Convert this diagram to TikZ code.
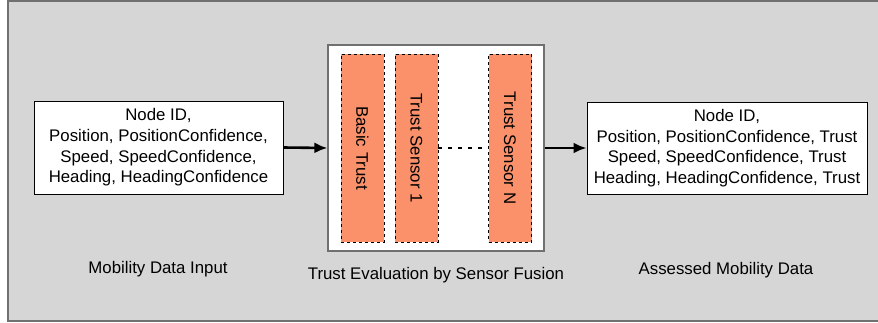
\documentclass[tikz,border=0pt]{standalone}
\usepackage{fontspec}
\setmainfont{Liberation Sans}
\usetikzlibrary{arrows.meta}
\definecolor{panelgray}{RGB}{214,214,214}
\definecolor{edgegray}{RGB}{112,112,112}
\definecolor{trustorange}{RGB}{250,145,106}
\tikzset{
  databox/.style={rectangle, draw, fill=white, align=center, inner sep=0pt, line width=0.9pt, font=\fontsize{16.8}{20.6}\selectfont},
  trustbar/.style={rectangle, draw, dashed, fill=trustorange, inner sep=0pt, line width=0.9pt, minimum width=43pt, minimum height=188pt},
  bartext/.style={rotate=-90, font=\fontsize{16.8}{20}\selectfont},
  caption/.style={font=\fontsize{16.8}{20}\selectfont},
  flow/.style={-{Latex[length=13pt,width=11pt]}, line width=2.6pt}
}
\begin{document}
\begin{tikzpicture}[x=1pt, y=-1pt]
  \useasboundingbox (0,0) rectangle (878,322);
  % Background
  \draw[edgegray, fill=panelgray, line width=2pt] (8,1) rectangle (890,321);
  % Nodes
  \node (input) [databox, minimum width=249pt, minimum height=93pt] at (158.5, 147.5) {Node ID,\\Position, PositionConfidence,\\Speed, SpeedConfidence,\\Heading, HeadingConfidence};
  \node (fusion) [rectangle, draw=edgegray, fill=white, line width=1.2pt, minimum width=216pt, minimum height=206pt, inner sep=0pt] at (436, 148) {};
  \node (basic) [trustbar] at (362.5, 148) {};
  \node (sensor-1) [trustbar] at (416.5, 148) {};
  \node (sensor-n) [trustbar] at (510, 148) {};
  \node [bartext] at (basic) {Basic Trust};
  \node [bartext] at (sensor-1) {Trust Sensor 1};
  \node [bartext] at (sensor-n) {Trust Sensor N};
  \node (output) [databox, minimum width=280pt, minimum height=92pt] at (727, 148) {Node ID,\\Position, PositionConfidence, Trust\\Speed, SpeedConfidence, Trust\\Heading, HeadingConfidence, Trust};
  % Labels
  \node (input-label) [caption] at (158, 269) {Mobility Data Input};
  \node (fusion-label) [caption] at (436, 275) {Trust Evaluation by Sensor Fusion};
  \node (output-label) [caption] at (726, 270) {Assessed Mobility Data};
  % Arrow
  \draw[flow] (input.east) -- (fusion.west);
  \draw[flow] (fusion.east) -- (output.west);
  \draw[line width=2.4pt, dash pattern=on 4pt off 6pt] (sensor-1.east) -- (sensor-n.west);
\end{tikzpicture}
\end{document}
